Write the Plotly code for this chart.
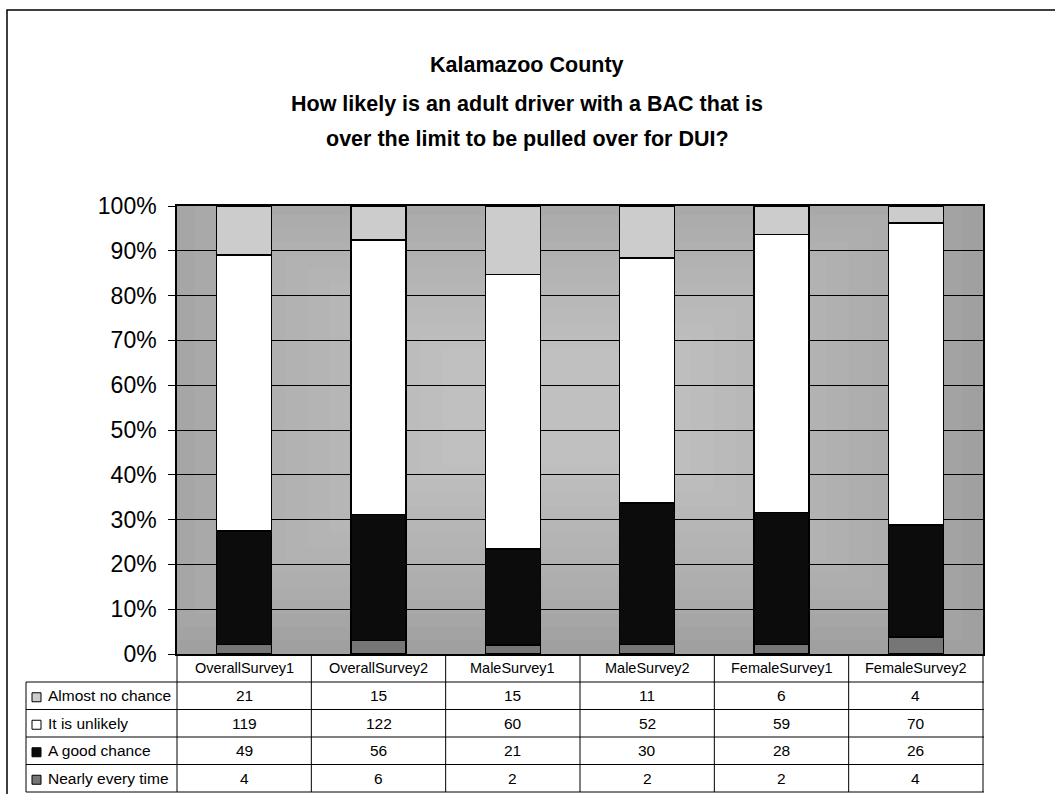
import plotly.graph_objects as go

# ---------------- data ----------------
categories = ["OverallSurvey1", "OverallSurvey2", "MaleSurvey1",
              "MaleSurvey2", "FemaleSurvey1", "FemaleSurvey2"]
almost_no_chance = [21, 15, 15, 11, 6, 4]
it_is_unlikely = [119, 122, 60, 52, 59, 70]
a_good_chance = [49, 56, 21, 30, 28, 26]
nearly_every_time = [4, 6, 2, 2, 2, 4]
y_ticks = [0, 10, 20, 30, 40, 50, 60, 70, 80, 90, 100]

title = "Kalamazoo County"
subtitle1 = "How likely is an adult driver with a BAC that is"
subtitle2 = "over the limit to be pulled over for DUI?"

# ---------------- styling ----------------
FONT = "Liberation Sans, Arial, sans-serif"
W, H = 1055, 794
L, R, T, B = 177, 983, 206, 654

def px2x(px):
    return (px - L) / (R - L)

def py2y(py):
    return (B - py) / (B - T)

# series drawn bottom to top; table rows listed top to bottom
series = [
    ("Nearly every time", nearly_every_time, "#767676"),
    ("A good chance", a_good_chance, "#0c0c0c"),
    ("It is unlikely", it_is_unlikely, "#ffffff"),
    ("Almost no chance", almost_no_chance, "#cccccc"),
]
table_rows = list(reversed(series))

fig = go.Figure()
for name, vals, col in series:
    fig.add_trace(go.Bar(
        x=categories, y=vals, name=name,
        marker=dict(color=col, line=dict(color="black", width=1.5)),
        showlegend=False,
    ))

shapes = []
# background gradient (lighter toward centre)
n = 16
cx, cy = 0.47, 0.55
for i in range(n):
    hx = 0.56 - i * 0.028
    hy = 0.58 - i * 0.03
    shapes.append(dict(type="rect", xref="paper", yref="paper",
                       x0=max(0, cx - hx), x1=min(1, cx + hx),
                       y0=max(0, cy - hy), y1=min(1, cy + hy),
                       fillcolor="white", opacity=0.035, line=dict(width=0),
                       layer="below"))

# outer frame
shapes.append(dict(type="rect", xref="paper", yref="paper",
                   x0=px2x(7), x1=px2x(1200), y0=py2y(900), y1=py2y(10),
                   line=dict(color="black", width=1.5)))

# data table
header_top, header_bot = 654, 682
row_h = 27.5
row_edges = [header_bot + row_h * k for k in range(len(table_rows) + 1)]
table_left = 26
col_w = (R - L) / len(categories)
line_style = dict(color="black", width=1)
for yy in row_edges:
    shapes.append(dict(type="line", xref="paper", yref="paper",
                       x0=px2x(table_left), x1=px2x(R + 1),
                       y0=py2y(yy), y1=py2y(yy), line=line_style))
for k in range(len(categories) + 1):
    xx = L + k * col_w
    shapes.append(dict(type="line", xref="paper", yref="paper",
                       x0=px2x(xx), x1=px2x(xx),
                       y0=py2y(header_top), y1=py2y(row_edges[-1]),
                       line=line_style))
shapes.append(dict(type="line", xref="paper", yref="paper",
                   x0=px2x(table_left), x1=px2x(table_left),
                   y0=py2y(header_bot), y1=py2y(row_edges[-1]),
                   line=line_style))

annotations = []
for c in categories:
    annotations.append(dict(x=c, xref="x", y=py2y((header_top + header_bot) / 2),
                            yref="paper", text=c, showarrow=False,
                            font=dict(family=FONT, size=14.5, color="black"),
                            xanchor="center", yanchor="middle"))
for r, (name, vals, col) in enumerate(table_rows):
    yc = (row_edges[r] + row_edges[r + 1]) / 2
    for c, v in zip(categories, vals):
        annotations.append(dict(x=c, xref="x", y=py2y(yc), yref="paper",
                                text=str(v), showarrow=False,
                                font=dict(family=FONT, size=15.5, color="black"),
                                xanchor="center", yanchor="middle"))
    annotations.append(dict(x=px2x(46), xref="paper", y=py2y(yc), yref="paper",
                            text=name, showarrow=False,
                            font=dict(family=FONT, size=15.5, color="black"),
                            xanchor="left", yanchor="middle"))
    shapes.append(dict(type="rect", xref="paper", yref="paper",
                       x0=px2x(32), x1=px2x(41),
                       y0=py2y(yc + 6), y1=py2y(yc - 3),
                       fillcolor=col, line=dict(color="black", width=1)))

# titles
for txt, ypx, size in [(title, 65, 21.5), (subtitle1, 104, 21.5), (subtitle2, 139, 21.5)]:
    annotations.append(dict(x=px2x(527), xref="paper", y=py2y(ypx), yref="paper",
                            xanchor="center", yanchor="middle", showarrow=False,
                            text="<b>" + txt + "</b>",
                            font=dict(family=FONT, size=size, color="black")))

fig.update_layout(
    width=W, height=H,
    margin=dict(l=L, r=W - R, t=T, b=H - B, pad=0),
    paper_bgcolor="white",
    plot_bgcolor="#9a9a9a",
    barmode="stack",
    barnorm="percent",
    bargap=0.59,
    font=dict(family=FONT, color="black"),
    shapes=shapes,
    annotations=annotations,
    showlegend=False,
)
fig.update_xaxes(showticklabels=False, ticks="", showgrid=False,
                 showline=True, linecolor="black", linewidth=1.5, mirror=True,
                 zeroline=False)
fig.update_yaxes(range=[0, 100], tickvals=y_ticks,
                 ticktext=[f"{v}%" for v in y_ticks],
                 tickfont=dict(family=FONT, size=23, color="black"),
                 ticks="outside", ticklen=7, tickcolor="black",
                 ticklabelstandoff=7,
                 showgrid=True, gridcolor="black", gridwidth=1,
                 showline=True, linecolor="black", linewidth=1.5, mirror=True,
                 zeroline=False)

fig.write_html("out.html")
